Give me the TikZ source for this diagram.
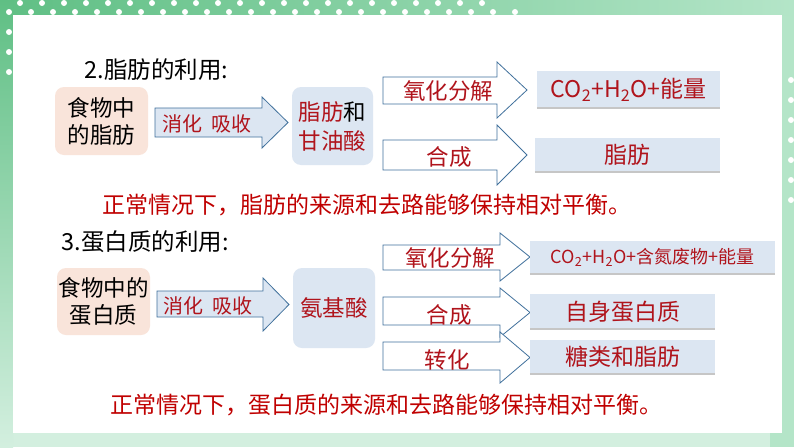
\documentclass[tikz,border=0pt]{standalone}
\usepackage{fontspec}
\setmainfont{Noto Sans CJK SC}
\usepackage{xcolor}

\definecolor{framegreen}{HTML}{5FBF84}
\definecolor{lightframe}{HTML}{B4E5C8}
\definecolor{palegreen}{HTML}{D3EFDF}
\definecolor{peach}{HTML}{F9E4DA}
\definecolor{paleblue}{HTML}{DCE6F2}
\definecolor{arrowline}{HTML}{41719C}
\definecolor{darkred}{HTML}{B0141C}
\definecolor{sentred}{HTML}{C00000}

\tikzset{
  foodbox/.style={rounded corners=9pt, fill=peach, inner sep=0pt, align=center,
    font=\fontsize{22.5}{27}\selectfont},
  midbox/.style={rounded corners=9pt, fill=paleblue, inner sep=0pt, align=center,
    font=\fontsize{22.5}{29}\selectfont},
  resultbox/.style={fill=paleblue, inner sep=0pt, text=darkred,
    font=\fontsize{23}{27}\selectfont},
  fatarrow/.style={draw=arrowline, line width=0.8pt, fill=paleblue},
  outarrow/.style={draw=arrowline, line width=0.8pt, fill=white},
  arrowtext/.style={text=darkred, font=\fontsize{22.5}{26}\selectfont},
  boxshadow/.style={gray!45, line width=1.5pt},
  heading/.style={anchor=west, font=\fontsize{23.5}{28}\selectfont},
  balance/.style={anchor=west, text=sentred, font=\fontsize{23}{27}\selectfont}
}

\begin{document}
\begin{tikzpicture}[x=1pt, y=-1pt]
            % Frame
            \useasboundingbox (0,0) rectangle (794,447);
            \fill[palegreen] (0,0) rectangle (794,447);
            \fill[lightframe] (770,0) rectangle (794,447);
            \shade[left color=framegreen, right color=lightframe] (0,0) rectangle (794,15);
            \shade[top color=framegreen, bottom color=palegreen] (0,0) rectangle (13,447);
            \foreach \x in {9,31,53,75,...,515} \fill[white] (\x,12) circle (3);
            \foreach \x in {20,42,64,86,...,500} \fill[white] (\x,3) circle (3);
            \foreach \y in {32,52,72} \fill[white] (9,\y) circle (3);
            \foreach \y in {80,100,...,200} \fill[white] (791,\y) circle (3);
            \fill[white] (13,15) rectangle (782,433);

            % Fat (Top)
            \node (title1) at (81,70) [heading] {2.脂肪的利用:};
            \node (food1) at (101.5,121) [foodbox, minimum width=93, minimum height=68] {食物中\\的脂肪};
            \node (acid1) at (332.5,126) [midbox, minimum width=81, minimum height=78]
              {{\color{darkred}脂肪}和\\{\color{darkred}甘油酸}};

            \draw[fatarrow] (155,108) -- (262,108) -- (262,97) -- (288,122.5) -- (262,148) -- (262,137) -- (155,137) -- cycle;
            \node (digest1) at (207,124) [arrowtext, font=\fontsize{20}{24}\selectfont] {消化\hspace{0.45em}吸收};

            \draw[outarrow] (383,77) -- (497,77) -- (497,62) -- (527,90) -- (497,118) -- (497,104) -- (383,104) -- cycle;
            \node (oxid1) at (448,91) [arrowtext] {氧化分解};
            \draw[outarrow] (383,140) -- (497,140) -- (497,125) -- (527,155) -- (497,185) -- (497,170) -- (383,170) -- cycle;
            \node (synth1) at (449,157) [arrowtext] {合成};

            \node (energy1) at (628.5,89.5) [resultbox, minimum width=183, minimum height=37]
              {CO\textsubscript{2}+H\textsubscript{2}O+能量};
            \node (fat1) at (627.5,155) [resultbox, minimum width=185, minimum height=34] {脂肪};
            \draw[boxshadow] (energy1.south west) -- (energy1.south east);
            \draw[boxshadow] (fat1.south west) -- (fat1.south east);

            \node (rule1) at (99,205) [balance] {正常情况下，脂肪的来源和去路能够保持相对平衡。};

            % Protein (Bottom)
            \node (title2) at (58,242) [heading] {3.蛋白质的利用:};
            \node (food2) at (103.5,301.5) [foodbox, minimum width=93, minimum height=67] {食物中的\\蛋白质};
            \node (acid2) at (334,308) [midbox, minimum width=82, minimum height=80, text=darkred] {氨基酸};

            \draw[fatarrow] (157,291) -- (263,291) -- (263,278) -- (289,304.5) -- (263,331) -- (263,317) -- (157,317) -- cycle;
            \node (digest2) at (208,306) [arrowtext, font=\fontsize{20}{24}\selectfont] {消化\hspace{0.45em}吸收};

            \draw[outarrow] (383,245) -- (500,245) -- (500,233) -- (530,257) -- (500,281) -- (500,270) -- (383,270) -- cycle;
            \node (oxid2) at (450,258) [arrowtext] {氧化分解};
            \draw[outarrow] (383,297) -- (500,297) -- (500,288) -- (530,312.5) -- (500,337) -- (500,325) -- (383,325) -- cycle;
            \node (synth2) at (449,315) [arrowtext] {合成};
            \draw[outarrow] (383,342) -- (500,342) -- (500,332) -- (530,357.5) -- (500,383) -- (500,370) -- (383,370) -- cycle;
            \node (conv2) at (447,360) [arrowtext] {转化};

            \node (energy2) at (652.5,257.5) [resultbox, minimum width=245, minimum height=33, font=\fontsize{18}{22}\selectfont]
              {CO\textsubscript{2}+H\textsubscript{2}O+含氮废物+能量};
            \node (prot2) at (622.5,311.5) [resultbox, minimum width=185, minimum height=35] {自身蛋白质};
            \node (sugar2) at (622.5,357) [resultbox, minimum width=185, minimum height=34] {糖类和脂肪};
            \draw[boxshadow] (energy2.south west) -- (energy2.south east);
            \draw[boxshadow] (prot2.south west) -- (prot2.south east);
            \draw[boxshadow] (sugar2.south west) -- (sugar2.south east);

            \node (rule2) at (107,405) [balance] {正常情况下，蛋白质的来源和去路能够保持相对平衡。};
        \end{tikzpicture}
\end{document}
